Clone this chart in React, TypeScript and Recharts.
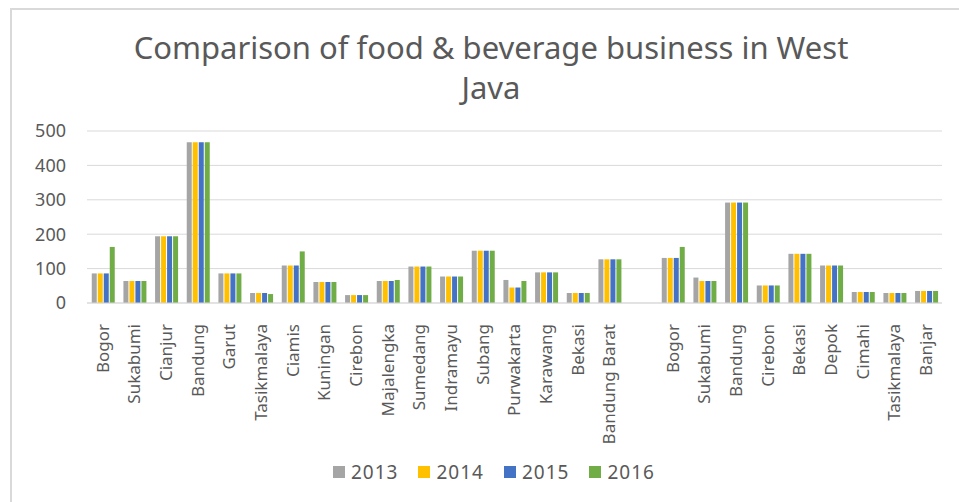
import React from 'react';
import { BarChart, Bar, XAxis, YAxis, CartesianGrid } from 'recharts';

const regions = [
  'Bogor', 'Sukabumi', 'Cianjur', 'Bandung', 'Garut', 'Tasikmalaya', 'Ciamis',
  'Kuningan', 'Cirebon', 'Majalengka', 'Sumedang', 'Indramayu', 'Subang',
  'Purwakarta', 'Karawang', 'Bekasi', 'Bandung Barat', '',
  'Bogor', 'Sukabumi', 'Bandung', 'Cirebon', 'Bekasi', 'Depok', 'Cimahi',
  'Tasikmalaya', 'Banjar',
];

const y2013 = [86, 64, 194, 467, 86, 29, 109, 61, 23, 64, 106, 77, 152, 67, 89, 29, 127, null, 131, 74, 292, 51, 143, 109, 32, 29, 35];
const y2014 = [86, 64, 194, 467, 86, 29, 109, 61, 23, 64, 106, 77, 152, 45, 89, 29, 127, null, 131, 64, 292, 51, 143, 109, 32, 29, 35];
const y2015 = [86, 64, 194, 467, 86, 29, 109, 61, 23, 64, 106, 77, 152, 45, 89, 29, 127, null, 131, 64, 292, 51, 143, 109, 32, 29, 35];
const y2016 = [163, 64, 194, 467, 86, 26, 150, 61, 23, 67, 106, 77, 152, 64, 89, 29, 127, null, 163, 64, 292, 51, 143, 109, 32, 29, 35];

const yTicks = [0, 100, 200, 300, 400, 500];

const series = [
  { key: 'y2013', name: '2013', color: '#A5A5A5' },
  { key: 'y2014', name: '2014', color: '#FFC000' },
  { key: 'y2015', name: '2015', color: '#4472C4' },
  { key: 'y2016', name: '2016', color: '#70AD47' },
];

const data = regions.map((name, i) => ({
  id: String(i),
  name,
  y2013: y2013[i],
  y2014: y2014[i],
  y2015: y2015[i],
  y2016: y2016[i],
}));

const FONT = '"Noto Sans", sans-serif';
const TEXT = '#595959';

const XTick = (props: any) => {
  const { x, y, payload } = props;
  const label = regions[Number(payload.value)];
  return (
    <text
      x={x}
      y={y + 13}
      transform={`rotate(-90, ${x}, ${y + 13})`}
      textAnchor="end"
      dy="0.35em"
      fill={TEXT}
      fontSize={17}
      fontFamily={FONT}
    >
      {label}
    </text>
  );
};

const YTick = (props: any) => {
  const { y, payload } = props;
  return (
    <text x={66} y={y} textAnchor="end" dy="0.35em" fill={TEXT} fontSize={18} fontFamily={FONT}>
      {payload.value}
    </text>
  );
};

export default function App() {
  return (
    <div style={{ position: 'absolute', left: 0, top: 0, width: 959, height: 502, background: '#fff', overflow: 'hidden' }}>
      <div
        style={{
          position: 'absolute',
          left: 10,
          top: 8,
          width: 960,
          height: 500,
          borderTop: '2px solid #d9d9d9',
          borderLeft: '2px solid #d9d9d9',
        }}
      />
      <div
        style={{
          position: 'absolute',
          left: 0,
          top: 27,
          width: 982,
          textAlign: 'center',
          fontFamily: FONT,
          fontSize: 31,
          lineHeight: '40px',
          color: TEXT,
        }}
      >
        Comparison of food &amp; beverage business in West
        <br />
        Java
      </div>
      <BarChart
        width={959}
        height={502}
        data={data}
        margin={{ top: 131, right: 17, bottom: 0, left: 0 }}
        barCategoryGap="15%"
        barGap={1}
        style={{ position: 'absolute', left: 0, top: 0 }}
      >
        <CartesianGrid vertical={false} stroke="#d9d9d9" />
        <XAxis
          dataKey="id"
          interval={0}
          height={199}
          tick={<XTick />}
          tickLine={false}
          axisLine={{ stroke: '#d9d9d9' }}
        />
        <YAxis
          width={87}
          domain={[0, 500]}
          ticks={yTicks}
          tick={<YTick />}
          tickLine={false}
          axisLine={false}
        />
        {series.map((s) => (
          <Bar key={s.key} dataKey={s.key} name={s.name} fill={s.color} isAnimationActive={false} />
        ))}
      </BarChart>
      <div
        style={{
          position: 'absolute',
          left: 333,
          top: 459,
          display: 'flex',
          alignItems: 'center',
          fontFamily: FONT,
          fontSize: 19,
          letterSpacing: 1,
          color: TEXT,
        }}
      >
        {series.map((s) => (
          <div key={s.key} style={{ display: 'flex', alignItems: 'center', marginRight: 20 }}>
            <span style={{ display: 'inline-block', width: 12, height: 12, background: s.color, marginRight: 6 }} />
            <span>{s.name}</span>
          </div>
        ))}
      </div>
    </div>
  );
}
